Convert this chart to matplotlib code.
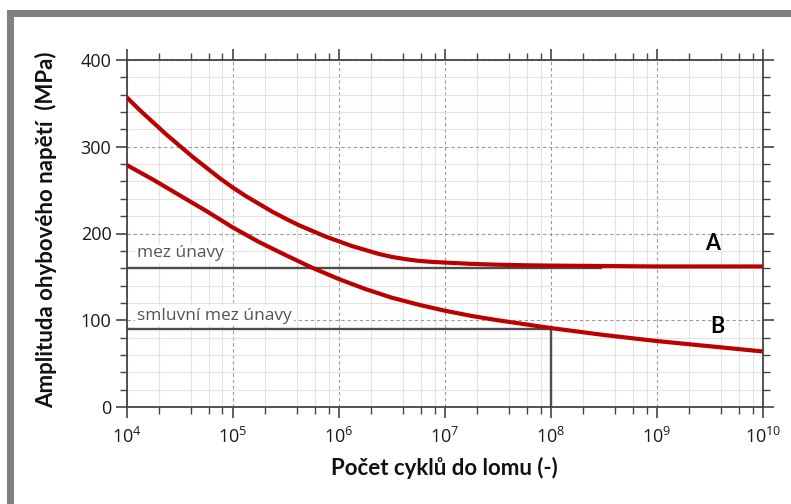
import matplotlib
matplotlib.use("Agg")
import matplotlib.pyplot as plt
from matplotlib.patches import Rectangle
from matplotlib.ticker import LogLocator, MultipleLocator, FixedLocator, NullFormatter
import numpy as np

plt.rcParams['font.family'] = ['Open Sans', 'DejaVu Sans']
plt.rcParams['mathtext.fontset'] = 'custom'
plt.rcParams['mathtext.rm'] = 'Open Sans'
plt.rcParams['mathtext.it'] = 'Open Sans'

# ---- data ----
logN_A = [4.0, 4.125, 4.25, 4.375, 4.5, 4.625, 4.75, 4.875, 5.0, 5.125, 5.25, 5.375, 5.5, 5.625,
          5.75, 5.875, 6.0, 6.125, 6.25, 6.375, 6.5, 6.625, 6.75, 6.875, 7.0, 7.25, 7.5, 7.75,
          8.0, 8.5, 9.0, 10.0]
sigma_A = [357, 342, 328, 314, 301, 288, 276, 264, 253, 243, 234, 225, 217, 209.5,
           203, 196.5, 191, 185.5, 181, 176.5, 173, 170.5, 168.5, 167.3, 166.5, 165, 164, 163.4,
           163, 162.5, 162, 162]

logN_B = [4.0, 4.25, 4.5, 4.75, 5.0, 5.25, 5.5, 5.75, 6.0, 6.25, 6.5, 6.75, 7.0, 7.25, 7.5,
          7.75, 8.0, 8.5, 9.0, 9.5, 10.0]
sigma_B = [279, 262, 244, 226, 207, 190, 175, 160.5, 147.5, 136, 126, 118, 111, 105, 100,
           95.5, 91, 83, 76, 70, 64]

fatigue_limit = 160          # mez únavy
fatigue_limit_end = 3e8
conv_limit = 90              # smluvní mez únavy
conv_N = 1e8

x_ticks = [1e4, 1e5, 1e6, 1e7, 1e8, 1e9, 1e10]
x_tick_labels = ["$10^{4}$", "$10^{5}$", "$10^{6}$", "$10^{7}$", "$10^{8}$", "$10^{9}$", "$10^{10}$"]
y_ticks = [0, 100, 200, 300, 400]

N_A = [10 ** v for v in logN_A]
N_B = [10 ** v for v in logN_B]

fig = plt.figure(figsize=(7.91, 5.04), dpi=100)

# gray frame (cropped screenshot border)
fig.patches.append(Rectangle((7 / 791, 0), 7 / 791, (504 - 10) / 504, transform=fig.transFigure,
                             facecolor="#808080", edgecolor="none", zorder=0))
fig.patches.append(Rectangle((7 / 791, (504 - 17) / 504), 1, 7 / 504, transform=fig.transFigure,
                             facecolor="#808080", edgecolor="none", zorder=0))

ax = fig.add_axes([126.7 / 791, 1 - 407 / 504, (763 - 126.7) / 791, (407 - 60) / 504])
ax.set_xscale("log")
ax.set_xlim(1e4, 1e10)
ax.set_ylim(0, 400)

# grids
ax.xaxis.set_major_locator(FixedLocator(x_ticks))
ax.xaxis.set_minor_locator(LogLocator(base=10, subs=[2, 4, 6, 8], numticks=100))
ax.xaxis.set_minor_formatter(NullFormatter())
ax.yaxis.set_major_locator(FixedLocator(y_ticks))
ax.yaxis.set_minor_locator(MultipleLocator(20))
ax.grid(which="minor", color="#e3e3e3", linewidth=0.8, linestyle="-", zorder=0)
ax.grid(which="major", color="#9a9a9a", linewidth=0.8, linestyle=(0, (3, 2.5)), zorder=0.5)
ax.set_axisbelow(True)

# lines
ax.plot([1e4, fatigue_limit_end], [fatigue_limit, fatigue_limit], color="#4d4d4d", lw=1.7, zorder=2)
ax.plot([1e4, conv_N, conv_N], [conv_limit, conv_limit, 0], color="#4d4d4d", lw=1.7, zorder=2)
ax.plot(N_A, sigma_A, color="#bb0000", lw=3.0, zorder=3, solid_capstyle="butt")
ax.plot(N_B, sigma_B, color="#bb0000", lw=3.0, zorder=3, solid_capstyle="butt")

# texts
ax.text(1.25e4, 177, "mez únavy", fontsize=12.5, color="#555555", va="center", ha="left",
        bbox=dict(facecolor="white", edgecolor="none", pad=1.0), zorder=1)
ax.text(1.25e4, 104.5, "smluvní mez únavy", fontsize=12.5, color="#555555", va="center", ha="left",
        bbox=dict(facecolor="white", edgecolor="none", pad=1.5), zorder=1)
ax.text(3.36e9, 189, "A", fontsize=15.5, fontweight="bold", color="black", family="Lato",
        ha="center", va="center")
ax.text(3.7e9, 93, "B", fontsize=15.5, fontweight="bold", color="black", family="Lato",
        ha="center", va="center")

ax.set_xticklabels(x_tick_labels)
ax.set_yticklabels([str(v) for v in y_ticks])

for s in ax.spines.values():
    s.set_color("#444444")
    s.set_linewidth(1.3)

ax.tick_params(which="both", top=True, right=True, direction="out", colors="#444444",
               labelcolor="#1a1a1a", labelsize=13)
ax.tick_params(which="major", length=8, width=1.2)
ax.tick_params(which="minor", length=5, width=1.0)
ax.tick_params(axis="x", pad=6)
ax.tick_params(axis="y", pad=3)

ax.set_xlabel("Počet cyklů do lomu (-)", fontsize=16, fontweight="bold", family="Lato",
              va="center", color="#111111")
ax.xaxis.set_label_coords((444 - 126.7) / 636.3, -(468 - 407) / 347)
ax.set_ylabel("Amplituda ohybového napětí  (MPa)", fontsize=16, fontweight="bold", family="Lato",
              va="center", color="#111111")
ax.yaxis.set_label_coords(-(126.7 - 46) / 636.3, (407 - 230) / 347)

fig.savefig("out.png", dpi=100)
